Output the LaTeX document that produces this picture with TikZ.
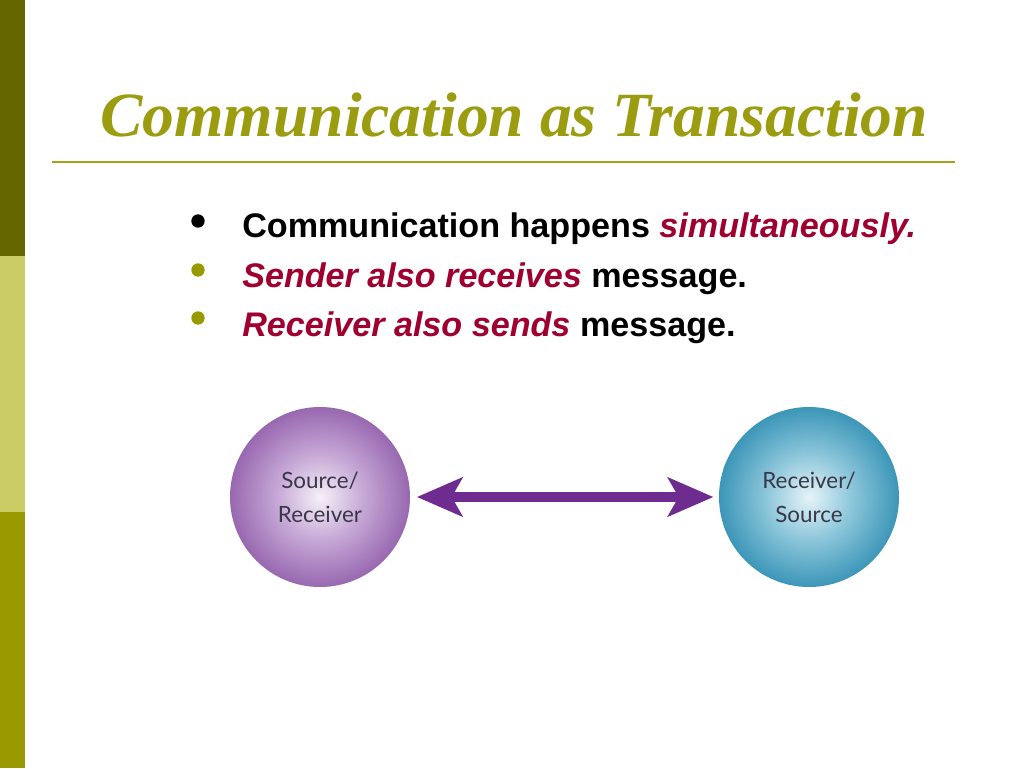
\documentclass[tikz,border=0pt]{standalone}
\usepackage{fontspec}
\setmainfont{Liberation Serif}
\newfontfamily\bodyfont{Liberation Sans}
\newfontfamily\circfont{Lato}
\usetikzlibrary{arrows.meta}
\definecolor{darkolive}{HTML}{666600}
\definecolor{lightolive}{HTML}{CCCC66}
\definecolor{olive}{HTML}{999900}
\definecolor{titleolive}{HTML}{9C9C10}
\definecolor{redtxt}{HTML}{A00030}
\definecolor{arrowpurple}{HTML}{6E2C91}
\definecolor{circtext}{HTML}{3A3848}
\definecolor{pin}{HTML}{F6F0F8}
\definecolor{pmid}{HTML}{C6A8D6}
\definecolor{pout}{HTML}{9868B0}
\definecolor{bin}{HTML}{E6F4F8}
\definecolor{bmid}{HTML}{8CC6DA}
\definecolor{bout}{HTML}{3C96B8}
\pgfdeclareradialshading{purpshade}{\pgfpoint{0bp}{0bp}}{color(0bp)=(pin); color(12bp)=(pmid); color(25bp)=(pout); color(50bp)=(pout)}
\pgfdeclareradialshading{blueshade}{\pgfpoint{0bp}{0bp}}{color(0bp)=(bin); color(12bp)=(bmid); color(25bp)=(bout); color(50bp)=(bout)}
\tikzset{
  bandrect/.style={fill=#1, draw=none},
  titletext/.style={anchor=base west, inner sep=0pt, text=titleolive, xscale=1.01, transform shape, font=\fontsize{47.2}{56}\selectfont\bfseries\itshape},
  bullettext/.style={anchor=base west, inner sep=0pt, font=\bodyfont\fontsize{25.6}{30}\selectfont\bfseries},
  bulletdot/.style={circle, fill=#1, inner sep=0pt, minimum size=10pt},
  bubble/.style={circle, minimum size=135pt, inner sep=0pt, align=center, text=circtext, font=\circfont\fontsize{16.8}{25.5}\selectfont},
  twoway/.style={draw=arrowpurple, line width=7.5pt, {Stealth[length=34pt,width=29pt,inset=8pt]}-{Stealth[length=34pt,width=29pt,inset=8pt]}}
}
\begin{document}
\begin{tikzpicture}[x=0.75pt,y=-0.75pt]
\useasboundingbox (0,0) rectangle (1024,768);
\fill[white] (0,0) rectangle (1024,768);
% left band
\fill[bandrect=darkolive] (0,0) rectangle (25,256);
\fill[bandrect=lightolive] (0,256) rectangle (25,512);
\fill[bandrect=olive] (0,512) rectangle (25,768);
% title
\node[titletext] (title) at (100,136) {Communication as Transaction};
\coordinate (ruleL) at (52,162);
\coordinate (ruleR) at (955,162);
\draw[draw=olive!90!white, line width=1.5pt] (ruleL) -- (ruleR);
% bullets
\node[bulletdot=black] (b1) at (198,221) {};
\node[bulletdot=olive] (b2) at (198,270) {};
\node[bulletdot=olive] (b3) at (198,318) {};
\node[bullettext] (t1) at (242,237) {Communication happens \textcolor{redtxt}{\itshape simultaneously.}};
\node[bullettext] (t2) at (242,287) {\textcolor{redtxt}{\itshape Sender also receives} message.};
\node[bullettext] (t3) at (242,336) {\textcolor{redtxt}{\itshape Receiver also sends} message.};
% circles
\node[bubble, shading=purpshade] (src) at (320,497) {Source/\\Receiver};
\node[bubble, shading=blueshade] (rcv) at (809,497) {Receiver/\\Source};
\draw[twoway, shorten <=5pt, shorten >=4pt] (src.east) -- (rcv.west);
\end{tikzpicture}
\end{document}
